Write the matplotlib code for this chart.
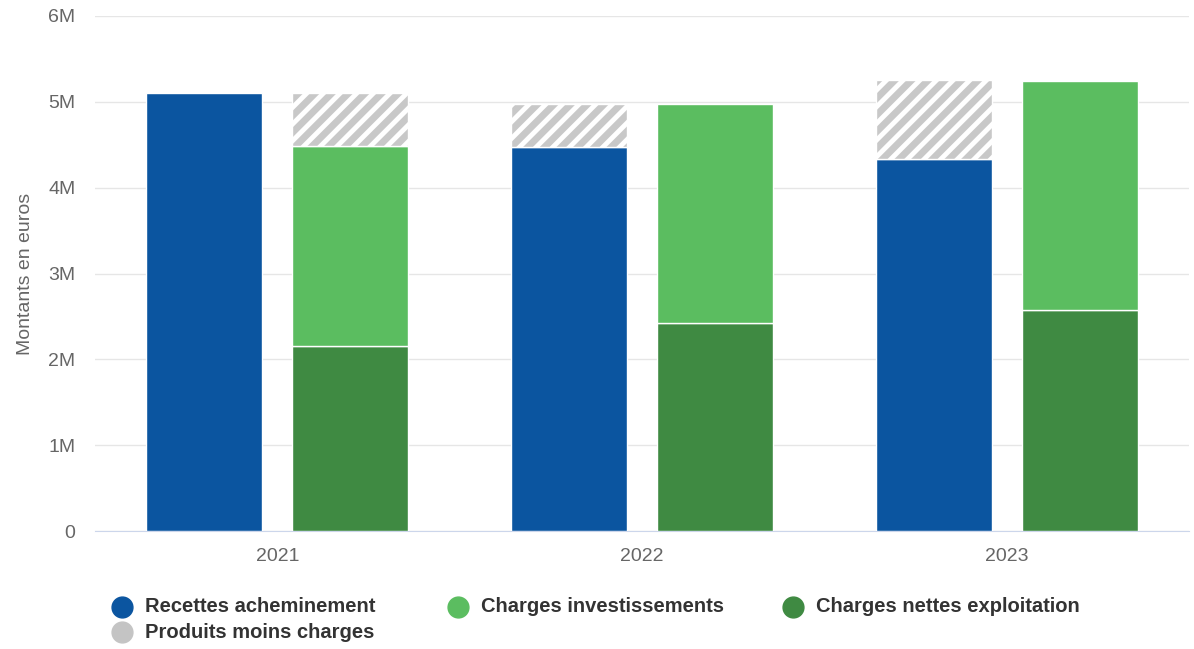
import matplotlib
matplotlib.use('Agg')
from matplotlib import pyplot as plt
from matplotlib.lines import Line2D
import numpy as np

plt.rcParams['font.family'] = ['Liberation Sans', 'DejaVu Sans']

# data (millions of euros)
years = ['2021', '2022', '2023']
recettes = [5.10, 4.47, 4.33]
charges_nettes = [2.15, 2.42, 2.58]
charges_invest = [2.34, 2.55, 2.66]   # stacked on charges nettes
produits_moins_charges = [0.61, -0.50, -0.92]

blue = '#0b55a0'
light_green = '#5bbd60'
dark_green = '#3f8a42'
grey = '#c8c8c8'

fig = plt.figure(figsize=(11.94, 6.49), dpi=100)
ax = fig.add_axes([95 / 1194, 1 - 531 / 649, 1094 / 1194, 515 / 649])

x = np.arange(len(years))
w = 0.318
off = 0.2

ax.bar(x - off, recettes, w, color=blue, edgecolor='white', linewidth=1, zorder=3)
ax.bar(x + off, charges_nettes, w, color=dark_green, edgecolor='white', linewidth=1, zorder=3)
ax.bar(x + off, charges_invest, w, bottom=charges_nettes, color=light_green,
       edgecolor='white', linewidth=1, zorder=3)

# difference goes on top of whichever side is smaller
plt.rcParams['hatch.color'] = '#dedede'
plt.rcParams['hatch.linewidth'] = 3.5
total_charges = np.array(charges_nettes) + np.array(charges_invest)
for i, d in enumerate(produits_moins_charges):
    if d >= 0:
        xpos, base = x[i] + off, total_charges[i]
    else:
        xpos, base = x[i] - off, recettes[i]
    ax.bar(xpos, abs(d), w, bottom=base, color=grey, hatch='//',
           edgecolor='white', linewidth=1, zorder=3)

ax.set_xlim(-0.5, 2.5)
ax.set_ylim(0, 6)
ax.set_xticks(x)
ax.set_xticklabels(years)
ax.set_yticks(range(7))
ax.set_yticklabels(['0', '1M', '2M', '3M', '4M', '5M', '6M'])
ax.tick_params(axis='both', length=0, labelsize=14, colors='#666666')
ax.tick_params(axis='x', pad=12)
ax.tick_params(axis='y', pad=14)
ax.grid(axis='y', color='#e6e6e6', linewidth=1, zorder=0)
for s in ['top', 'right', 'left']:
    ax.spines[s].set_visible(False)
ax.spines['bottom'].set_color('#ccd6eb')
ax.set_ylabel('Montants en euros', fontsize=14, color='#666666', labelpad=10)

# legend drawn by hand
legend_items = [('Recettes acheminement', blue, 122, 607),
                ('Charges investissements', light_green, 458, 607),
                ('Charges nettes exploitation', dark_green, 793, 607),
                ('Produits moins charges', '#c4c4c4', 122, 632)]
for label, col, px, py in legend_items:
    fig.add_artist(Line2D([px / 1194], [1 - py / 649], marker='o', markersize=15,
                          color=col, linestyle='none', transform=fig.transFigure))
    fig.text((px + 23) / 1194, 1 - py / 649, label, fontsize=14.5, fontweight='bold',
             color='#333333', va='center', ha='left')

plt.savefig('out.png', dpi=100)
